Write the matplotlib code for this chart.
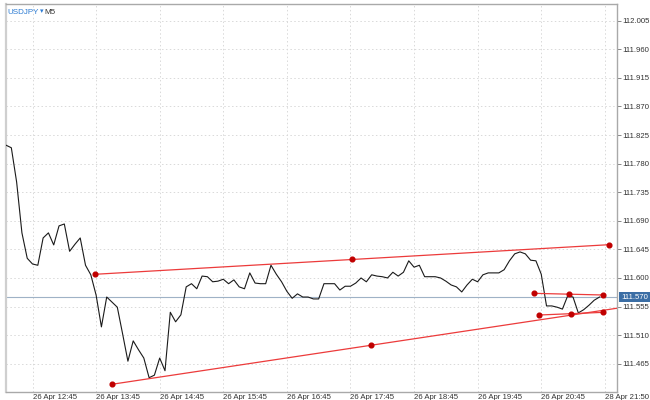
import numpy as np
import matplotlib
matplotlib.use("Agg")
import matplotlib.pyplot as plt

# ---- data -------------------------------------------------------------
symbol = "USDJPY"
timeframe = "M5"
close_prices = [
    111.809, 111.805, 111.751, 111.671, 111.631, 111.622, 111.620, 111.663,
    111.671, 111.652, 111.682, 111.685, 111.642, 111.653, 111.663, 111.620,
    111.605, 111.573, 111.523, 111.570, 111.562, 111.554, 111.512, 111.469,
    111.501, 111.487, 111.474, 111.443, 111.447, 111.474, 111.454, 111.546,
    111.531, 111.542, 111.586, 111.591, 111.583, 111.603, 111.602, 111.594,
    111.595, 111.598, 111.591, 111.597, 111.586, 111.583, 111.608, 111.592,
    111.591, 111.591, 111.620, 111.606, 111.594, 111.579, 111.568, 111.575,
    111.570, 111.570, 111.567, 111.567, 111.591, 111.591, 111.591, 111.581,
    111.587, 111.587, 111.592, 111.600, 111.594, 111.605, 111.603, 111.602,
    111.600, 111.609, 111.603, 111.609, 111.627, 111.617, 111.620, 111.602,
    111.602, 111.602, 111.600, 111.595, 111.589, 111.586, 111.578, 111.589,
    111.598, 111.594, 111.605, 111.608, 111.608, 111.608, 111.613, 111.627,
    111.638, 111.641, 111.638, 111.628, 111.627, 111.606, 111.556, 111.556,
    111.554, 111.551, 111.572, 111.570, 111.545, 111.550, 111.557, 111.565,
    111.570,
]
current_price = 111.570

x_tick_bars = [5, 17, 29, 41, 53, 65, 77, 89, 101, 113]
x_tick_labels = ["26 Apr 12:45", "26 Apr 13:45", "26 Apr 14:45", "26 Apr 15:45",
                 "26 Apr 16:45", "26 Apr 17:45", "26 Apr 18:45", "26 Apr 19:45",
                 "26 Apr 20:45", "28 Apr 21:50"]
y_ticks = [111.465, 111.510, 111.555, 111.600, 111.645, 111.690, 111.735,
           111.780, 111.825, 111.870, 111.915, 111.960, 112.005]

# trend lines: (start bar, start price), (end bar, end price)
upper_trend_bars = [16.8, 113.8]
upper_trend_prices = [111.6058, 111.6524]
lower_trend_bars = [19.94, 117.7]
lower_trend_prices = [111.4326, 111.5554]
small_upper_bars = [99.7, 112.7]
small_upper_prices = [111.5758, 111.5732]
small_lower_bars = [100.6, 112.7]
small_lower_prices = [111.5417, 111.5459]

# ---- figure -----------------------------------------------------------
plt.rcParams['font.family'] = ['Liberation Sans', 'DejaVu Sans']
fig = plt.figure(figsize=(6.5, 4.0), dpi=100)
L, R, B, T = 5.5 / 650, 617 / 650, 8 / 400, 396 / 400
ax = fig.add_axes([L, B, R - L, T - B])

x = np.arange(len(close_prices))
ax.set_xlim(-0.1, 115.3)
ax.set_ylim(111.4205, 112.0313)

# grid
for yt in y_ticks:
    ax.axhline(yt, color='#d9d9d9', lw=0.7, ls=(0, (1.5, 2.5)), zorder=0)
for xt in x_tick_bars:
    ax.axvline(xt, color='#d9d9d9', lw=0.7, ls=(0, (1.5, 2.5)), zorder=0)

# current price line
ax.axhline(current_price, color='#9fb2c6', lw=0.8, zorder=1)

# price
ax.plot(x, close_prices, color='#1a1a1a', lw=0.8, zorder=3)

# trend lines with anchor dots (start, middle, end)
red = '#ec3b3b'
dot = '#c00000'
for bars, prices in [(upper_trend_bars, upper_trend_prices),
                     (lower_trend_bars, lower_trend_prices),
                     (small_upper_bars, small_upper_prices),
                     (small_lower_bars, small_lower_prices)]:
    ax.plot(bars, prices, color=red, lw=0.9, zorder=4, solid_capstyle='butt')
    mb = [bars[0], (bars[0] + bars[1]) / 2, bars[1]]
    mp = [prices[0], (prices[0] + prices[1]) / 2, prices[1]]
    ax.plot(mb, mp, ls='none', marker='o', ms=3.4, color=dot, mec=dot, zorder=5,
            clip_on=True)

# axes styling
for side in ['top', 'bottom', 'left', 'right']:
    ax.spines[side].set_color('#a9a9a9')
    ax.spines[side].set_linewidth(1.0)
ax.spines['left'].set_color('#cfcfcf')
ax.spines['left'].set_linewidth(1.6)

ax.yaxis.tick_right()
ax.set_yticks(y_ticks)
ax.set_yticklabels([f"{v:.3f}" for v in y_ticks])
ax.tick_params(axis='y', which='both', direction='out', length=3, width=0.7,
               color='#888888', labelsize=5.6, labelcolor='#333333', pad=1.2)
ax.set_xticks(x_tick_bars)
ax.set_xticklabels(x_tick_labels)
ax.tick_params(axis='x', length=0, labelsize=5.6, labelcolor='#333333', pad=1.5)
for lab in ax.get_xticklabels():
    lab.set_horizontalalignment('left')

# current price label box
ax.annotate(f"{current_price:.3f}", xy=(1.0, current_price),
            xycoords=('axes fraction', 'data'), xytext=(3, 0),
            textcoords='offset points', ha='left', va='center',
            fontsize=5.6, color='white', zorder=10, annotation_clip=False,
            bbox=dict(boxstyle='square,pad=0.25', fc='#3b6ea5', ec='none'))

# title
ax.text(0.003, 0.988, symbol, transform=ax.transAxes, ha='left', va='top',
        fontsize=5.8, color='#2b7bd3')
ax.text(0.056, 0.990, "\u25be", transform=ax.transAxes, ha='left', va='top',
        fontsize=5.0, color='#2b7bd3', family=['DejaVu Sans'])
ax.text(0.064, 0.988, timeframe, transform=ax.transAxes, ha='left', va='top',
        fontsize=5.8, color='#333333')

fig.savefig("out.png", dpi=100, facecolor='white')
